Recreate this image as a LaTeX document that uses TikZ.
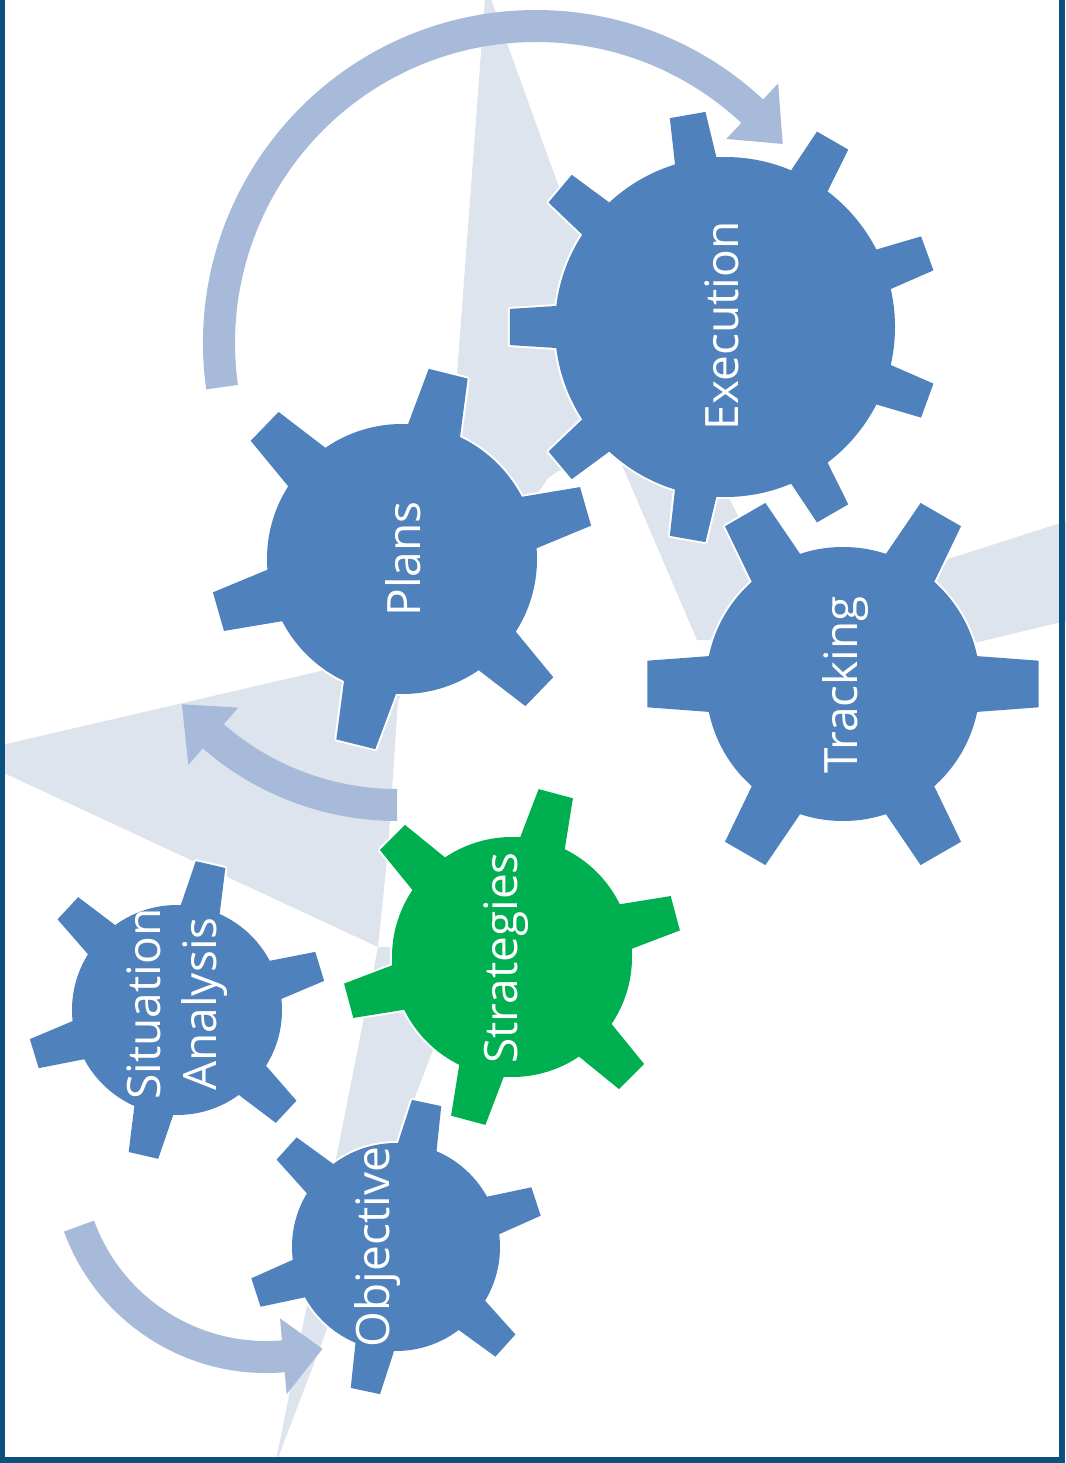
\documentclass[tikz,border=0pt]{standalone}
\usepackage{fontspec}
\newfontfamily\gearfont{Open Sans}
\definecolor{gearblue}{RGB}{79,129,189}
\definecolor{geargreen}{RGB}{0,176,80}
\definecolor{boltgrey}{RGB}{221,228,238}
\definecolor{swirlblue}{RGB}{168,186,218}
\definecolor{framedark}{RGB}{12,80,125}

% gear: centre, body radius, tip radius, teeth, first angle, base half-angle, tip half-angle, colour
\newcommand{\gearat}[8]{%
  \begin{scope}[shift={#1}]
    \foreach \k in {1,...,#4} {
      \pgfmathsetmacro{\ang}{#5+360/#4*\k}
      \filldraw[white, line width=4pt, line join=round]
        (\ang-#6:#2-6) -- (\ang-#7:#3) -- (\ang+#7:#3) -- (\ang+#6:#2-6) -- cycle;
    }
    \filldraw[white, line width=4pt] (0,0) circle (#2);
    \foreach \k in {1,...,#4} {
      \pgfmathsetmacro{\ang}{#5+360/#4*\k}
      \fill[#8] (\ang-#6:#2-6) -- (\ang-#7:#3) -- (\ang+#7:#3) -- (\ang+#6:#2-6) -- cycle;
    }
    \fill[#8] (0,0) circle (#2);
  \end{scope}}

% curved block arrow: centre, radius, start angle, end angle, tip offset
\newcommand{\swirlat}[5]{%
  \pgfmathsetmacro{\ro}{#2+16}\pgfmathsetmacro{\ri}{#2-16}%
  \pgfmathsetmacro{\rh}{#2+38}\pgfmathsetmacro{\rl}{#2-38}%
  \pgfmathsetmacro{\tipa}{#4+#5}%
  \fill[swirlblue, shift={#1}] (#3:\ro) arc[start angle=#3, end angle=#4, radius=\ro]
    -- (#4:\rh) -- (\tipa:#2) -- (#4:\rl) -- (#4:\ri)
    arc[start angle=#4, end angle=#3, radius=\ri] -- cycle;}

\begin{document}
\begin{tikzpicture}[x=1pt, y=-1pt,
    geartext/.style={text=white, rotate=90, align=center, inner sep=0pt,
      font=\gearfont\fontsize{46}{56}\selectfont}]
  \useasboundingbox (0,0) rectangle (1065,1463);
  \fill[white] (0,0) rectangle (1065,1463);

  % background bolt
  \fill[boltgrey] (486,-15) -- (560,190) -- (650,330) -- (725,490) -- (760,560)
    -- (800,640) -- (697,640) -- (610,437) -- (548,478) -- (437,644) -- cycle;
  \fill[boltgrey] (1070,520) -- (820,600) -- (820,680) -- (1070,620) -- cycle;
  \fill[boltgrey] (-37,754) -- (437,644) -- (398,700) -- (388,850) -- (378,947) -- cycle;
  \fill[boltgrey] (275,1466) -- (378,947) -- (472,947) -- cycle;

  % curved arrows
  \swirlat{(536,343)}{317}{-188}{-47}{8.1}
  \swirlat{(397,525)}{280}{90}{131}{9.2}
  \swirlat{(266,1158)}{199}{160}{85}{-11.5}

  % gears
  \gearat{(725,327)}{170}{216}{9}{20}{7.5}{4.8}{gearblue}
  \gearat{(843,684)}{137}{197}{6}{0}{12.5}{6.8}{gearblue}
  \gearat{(402,559)}{135}{192}{6}{44}{12.3}{6}{gearblue}
  \gearat{(512,957)}{120}{170}{6}{45}{12}{6}{geargreen}
  \gearat{(177,1010)}{105}{150}{6}{43}{12}{5.8}{gearblue}
  \gearat{(396,1247)}{104}{148}{6}{42}{12}{5.8}{gearblue}

  % labels
  \node[geartext] (exec) at (722,326) {Execution};
  \node[geartext] (plans) at (403,559) {Plans};
  \node[geartext] (track) at (846,685) {Tracking};
  \node[geartext] (strat) at (506,958) {Strategies};
  \node[geartext] (situ) at (177,1004) {Situation\\Analysis};
  \node[geartext] (obj) at (378,1247) {Objective};

  % frame
  \fill[framedark] (0,0) rectangle (5,1463);
  \fill[framedark] (1059,0) rectangle (1065,1463);
  \fill[framedark] (0,1457) rectangle (1065,1463);
\end{tikzpicture}
\end{document}
